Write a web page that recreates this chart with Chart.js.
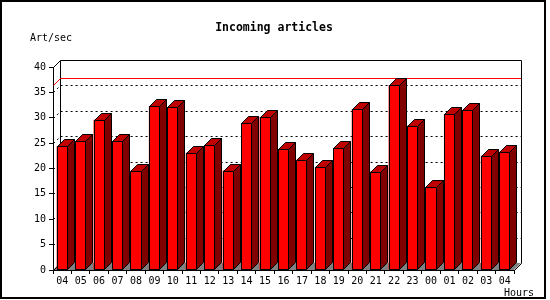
<!DOCTYPE html>
<html>
<head>
<meta charset="utf-8">
<script src="https://cdn.jsdelivr.net/npm/chart.js@4/dist/chart.umd.min.js"></script>
<style>
html,body{margin:0;padding:0;background:#fff;}
#wrap{width:550px;height:300px;position:relative;}
</style>
</head>
<body>
<div id="wrap"><canvas id="c" width="550" height="300"></canvas></div>
<script>
// ---- data ----
const hours = ['04','05','06','07','08','09','10','11','12','13','14','15','16','17','18','19','20','21','22','23','00','01','02','03','04'];
const articlesPerSec = [24.4,25.4,29.6,25.4,19.5,32.3,32.1,23.1,24.6,19.6,28.9,30.1,23.8,21.7,20.2,24.0,31.7,19.4,36.4,28.4,16.3,30.7,31.5,22.5,23.3];
const yTickValues = [0,5,10,15,20,25,30,35,40];
const titleText = 'Incoming articles';
const yUnitText = 'Art/sec';
const xUnitText = 'Hours';
const maxValue = Math.max(...articlesPerSec);

const DEPTH = 7;
const MONO = '"DejaVu Sans Mono", monospace';

const threeD = {
  id: 'threeD',
  beforeDatasetsDraw(chart) {
    const ctx = chart.ctx, a = chart.chartArea, y = chart.scales.y;
    const L = Math.round(a.left), R = Math.round(a.right), B = Math.round(a.bottom), T = Math.round(a.top);
    ctx.save();
    // floor
    ctx.fillStyle = '#808080';
    ctx.beginPath();
    ctx.moveTo(L, B); ctx.lineTo(R, B); ctx.lineTo(R + DEPTH, B - DEPTH); ctx.lineTo(L + DEPTH, B - DEPTH); ctx.closePath();
    ctx.fill();
    ctx.lineWidth = 1;
    ctx.strokeStyle = '#000';
    // back wall frame
    ctx.beginPath();
    ctx.moveTo(L + DEPTH + 0.5, B - DEPTH); ctx.lineTo(L + DEPTH + 0.5, T - DEPTH + 0.5);
    ctx.lineTo(R + DEPTH + 0.5, T - DEPTH + 0.5); ctx.lineTo(R + DEPTH + 0.5, B - DEPTH + 0.5);
    ctx.lineTo(R + 0.5, B + 0.5);
    ctx.moveTo(L + 0.5, T + 0.5); ctx.lineTo(L + DEPTH + 0.5, T - DEPTH + 0.5);
    ctx.moveTo(L + 0.5, B + 0.5); ctx.lineTo(L + DEPTH + 0.5, B - DEPTH + 0.5);
    ctx.stroke();
    // dotted grid lines on left wall and back wall
    ctx.setLineDash([2, 3]);
    yTickValues.forEach(v => {
      if (v === y.min || v === y.max) return;
      const py = Math.round(y.getPixelForValue(v));
      ctx.beginPath();
      ctx.moveTo(L + 0.5, py + 0.5); ctx.lineTo(L + DEPTH + 0.5, py - DEPTH + 0.5);
      ctx.lineTo(R + DEPTH, py - DEPTH + 0.5);
      ctx.stroke();
    });
    ctx.setLineDash([]);
    // maximum line
    const my = Math.round(y.getPixelForValue(maxValue));
    ctx.strokeStyle = '#ff0000';
    ctx.beginPath();
    ctx.moveTo(L + 0.5, my + 0.5); ctx.lineTo(L + DEPTH + 0.5, my - DEPTH + 0.5);
    ctx.lineTo(R + DEPTH, my - DEPTH + 0.5);
    ctx.stroke();
    ctx.restore();
  },
  afterDatasetsDraw(chart) {
    const ctx = chart.ctx;
    const meta = chart.getDatasetMeta(0);
    ctx.save();
    ctx.lineWidth = 1;
    ctx.strokeStyle = '#000';
    meta.data.forEach(bar => {
      const p = bar.getProps(['x', 'y', 'base', 'width'], true);
      const l = Math.round(p.x - p.width / 2) + 0.5;
      const r = Math.round(p.x + p.width / 2) - 0.5;
      const t = Math.round(p.y) + 0.5;
      const b = Math.round(p.base) - 0.5;
      // front
      ctx.fillStyle = '#ff0000';
      ctx.fillRect(l, t, r - l, b - t);
      ctx.strokeRect(l, t, r - l, b - t);
      // top
      ctx.fillStyle = '#c00000';
      ctx.beginPath();
      ctx.moveTo(l, t); ctx.lineTo(l + DEPTH, t - DEPTH); ctx.lineTo(r + DEPTH, t - DEPTH); ctx.lineTo(r, t); ctx.closePath();
      ctx.fill(); ctx.stroke();
      // side
      ctx.fillStyle = '#800000';
      ctx.beginPath();
      ctx.moveTo(r, t); ctx.lineTo(r + DEPTH, t - DEPTH); ctx.lineTo(r + DEPTH, b - DEPTH); ctx.lineTo(r, b); ctx.closePath();
      ctx.fill(); ctx.stroke();
    });
    ctx.restore();
  },
  afterDraw(chart) {
    const ctx = chart.ctx;
    ctx.save();
    ctx.fillStyle = '#000';
    ctx.textBaseline = 'alphabetic';
    ctx.font = 'bold 11.5px ' + MONO;
    ctx.textAlign = 'center';
    ctx.fillText(titleText, 274, 30.5);
    ctx.font = '10px ' + MONO;
    ctx.textAlign = 'left';
    ctx.fillText(yUnitText, 30, 40.5);
    ctx.fillText(xUnitText, 504, 296);
    // outer frame
    ctx.strokeStyle = '#000';
    ctx.lineWidth = 2;
    ctx.strokeRect(1, 1, 544, 297);
    ctx.restore();
  }
};

Chart.defaults.color = '#000';
Chart.defaults.font.family = MONO;
Chart.defaults.font.size = 10;

new Chart(document.getElementById('c'), {
  type: 'bar',
  data: {
    labels: hours,
    datasets: [{
      label: 'Incoming articles',
      data: articlesPerSec,
      backgroundColor: '#ff0000',
      borderWidth: 0,
      barPercentage: 0.6,
      categoryPercentage: 1.0
    }]
  },
  options: {
    responsive: false,
    animation: false,
    events: [],
    layout: { padding: { left: 0, top: 67, right: 36, bottom: 0 } },
    plugins: { legend: { display: false }, tooltip: { enabled: false }, title: { display: false } },
    scales: {
      x: {
        offset: true,
        grid: { offset: true, drawOnChartArea: false, drawTicks: true, tickLength: 4, color: '#000' },
        border: { display: true, color: '#000' },
        ticks: { padding: 1, maxRotation: 0, autoSkip: false, color: '#000', font: { family: MONO, size: 10 } },
        afterFit(s) { s.height = 30; }
      },
      y: {
        min: 0, max: 40,
        afterBuildTicks(s) { s.ticks = yTickValues.map(v => ({ value: v })); },
        grid: { drawOnChartArea: false, drawTicks: true, tickLength: 4, color: '#000' },
        border: { display: true, color: '#000' },
        ticks: { padding: 3, color: '#000', font: { family: MONO, size: 10 } },
        afterFit(s) { s.width = 53; }
      }
    }
  },
  plugins: [threeD]
});
</script>
</body>
</html>
